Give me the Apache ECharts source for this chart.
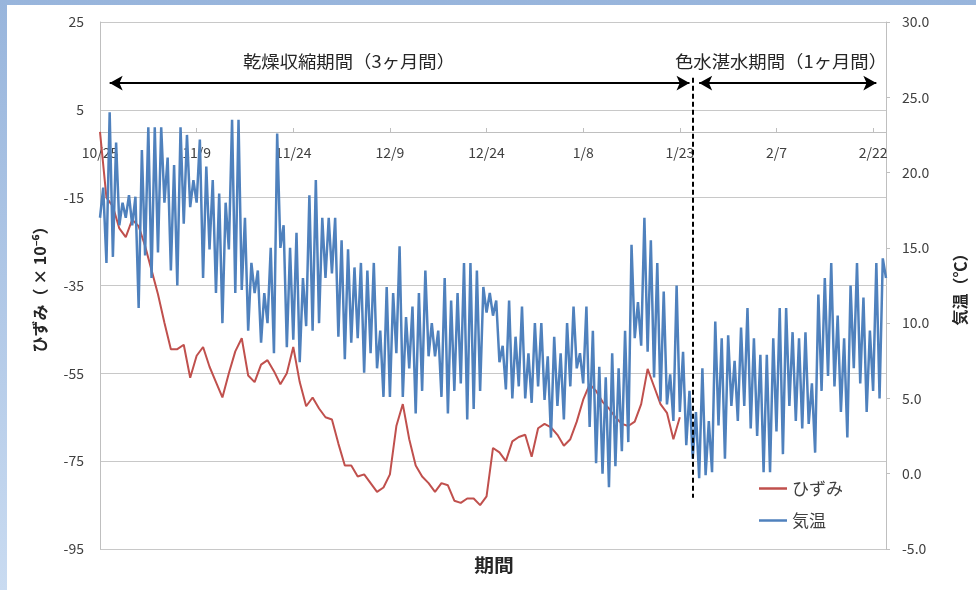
<!DOCTYPE html>
<html><head><meta charset="utf-8">
<script src="https://cdn.jsdelivr.net/npm/echarts@6/dist/echarts.min.js"></script>
<style>html,body{margin:0;padding:0;background:#fff}#c{width:976px;height:590px}</style>
</head><body><div id="c"></div>
<script>
// X axis tick labels (every 15 days, first day = 10/25)
const tickLabels = ['10/25','11/9','11/24','12/9','12/24','1/8','1/23','2/7','2/22'];
const seriesNames = ['ひずみ', '気温'];

// 気温 (℃): two readings per day (low, high), 10/25 .. 2/24
const tempValues = [
  17, 19, 14, 24, 14.4, 22, 16.5, 18, 17, 18.5,
  16.5, 18.4, 11, 21.5, 14.5, 23, 13, 23, 14.7, 23,
  18, 21, 13.5, 20.5, 12.5, 23, 16.6, 22.5, 17.7, 19.5,
  18, 22.2, 13, 20.4, 14.9, 19.5, 12, 18.6, 10, 18,
  14.9, 23.5, 12, 23.5, 12.2, 17, 9.5, 14, 12, 13.5,
  8.7, 12, 10, 15, 8, 22.6, 15, 16.5, 8.4, 15,
  8.9, 16, 7.4, 13, 9.8, 18.5, 9.5, 19.5, 10, 17,
  13, 17, 13.3, 17, 9.1, 15.5, 7.6, 14.9, 8.7, 13.7,
  9, 14, 6.7, 13.5, 8, 14, 7, 9.5, 5.1, 12.4,
  5.1, 12, 8, 15.1, 5.1, 10.4, 7, 11.1, 4, 12,
  5.5, 13.5, 7.8, 10, 7.8, 9.5, 5.1, 13, 4, 11.5,
  5.5, 12, 6, 14, 3.6, 14, 4.3, 13.5, 5.5, 12.4,
  10.7, 12, 10.5, 11.5, 7.4, 8.5, 5.6, 11.5, 5, 9.1,
  5.8, 11.1, 5, 8, 4.7, 10, 5.8, 10, 4.9, 7.8,
  2.4, 9.1, 4.5, 8, 3.6, 10, 5.8, 11.1, 7, 8,
  6, 11.1, 3.1, 9.5, 0.7, 7.1, 0, 6.4, -0.9, 8,
  0.5, 7, 1.5, 9.5, 2.1, 15.2, 9, 11.4, 8.5, 17,
  8.1, 15.5, 6.4, 14, 4.8, 12.1, 4.6, 6.6, 3.5, 12.5,
  4.1, 8.1, 1.9, 5.5, 1, 4.1, -0.3, 7, -0.1, 3.5,
  0.1, 10.1, 3.2, 9, 1, 9.2, 4.5, 7.5, 3.5, 9.7,
  4.5, 11, 3, 9, 2.5, 7.9, 0.1, 7.9, 0.1, 9,
  2.8, 11, 1.3, 11, 4.5, 9.4, 3.5, 9, 3, 9.4,
  3.3, 6, 1.4, 11.9, 5.5, 13, 6.5, 14, 5.8, 10.5,
  4.1, 9, 2.4, 12.5, 7, 14, 6, 11.7, 4.1, 9.5,
  5.5, 14, 5, 14.3, 13
];

// ひずみ (×10^-6): one reading per day, 10/25 .. 1/23
const strainDaily = [
  0, -15, -17, -22, -24, -20, -21.5, -26, -31.5, -37,
  -43.5, -49.5, -49.5, -48.5, -56, -51, -49, -53.5, -57, -60.5,
  -55, -50, -47, -55.5, -57, -53, -52, -54.5, -57.5, -55,
  -49, -57, -62.5, -60.5, -63, -65, -65.5, -71, -76, -76,
  -78.5, -78, -80, -82, -81, -78, -67, -62, -70, -76,
  -78.5, -80, -82, -80, -80.5, -84, -84.5, -83.5, -83.5, -85,
  -83, -72, -73, -75, -70.5, -69.5, -69, -74, -67.5, -66.5,
  -67.3, -69, -71.5, -70, -66, -61, -57.5, -59, -61.5, -63,
  -65, -66.5, -67, -66, -62, -54, -58, -62, -64, -70,
  -65
];

// build categories (half-day slots) from the start date
const categories = [];
const t0 = Date.UTC(2013, 9, 25);
for (let k = 0; k < tempValues.length; k++) {
  const d = new Date(t0 + k * 12 * 3600 * 1000);
  const s = (d.getUTCMonth() + 1) + '/' + d.getUTCDate();
  categories.push(k % 2 === 0 ? s : s + ' 12:00');
}
const strainData = categories.map((c, k) => (k % 2 === 0 && k / 2 < strainDaily.length) ? strainDaily[k / 2] : null);

const FONT = '"Noto Sans CJK JP", "Noto Sans", sans-serif';
const chart = echarts.init(document.getElementById('c'), null, {renderer: 'canvas'});
chart.setOption({
  animation: false,
  textStyle: {fontFamily: FONT},
  grid: {left: 100, right: 90, top: 22, bottom: 41, containLabel: false},
  legend: {
    orient: 'vertical', left: 754, top: 475, icon: 'rect', itemWidth: 28, itemHeight: 2.5, itemGap: 15,
    data: seriesNames,
    textStyle: {fontSize: 17, color: '#404040', fontFamily: FONT}
  },
  xAxis: {
    type: 'category', data: categories, boundaryGap: false,
    position: 'bottom', offset: -417,
    axisLine: {show: true, onZero: false, lineStyle: {color: '#bfbfbf', width: 1}},
    axisTick: {show: true, inside: true, length: 4, interval: 29, lineStyle: {color: '#bfbfbf'}},
    axisLabel: {
      interval: 29, margin: 14, fontSize: 14, color: '#404040',
      formatter: (v, idx) => tickLabels[Math.round(idx / 30)]
    },
    splitLine: {show: false}
  },
  yAxis: [
    {
      type: 'value', min: -95, max: 25, interval: 20, position: 'left',
      axisLine: {show: true, lineStyle: {color: '#bfbfbf'}},
      axisTick: {show: false},
      axisLabel: {fontSize: 14, color: '#404040', margin: 16},
      splitLine: {show: true, lineStyle: {color: '#c8c8c8', width: 1}},
      name: 'ひずみ（ × 10⁻⁶）', nameLocation: 'middle', nameGap: 52, nameRotate: 90,
      nameTextStyle: {fontSize: 16, fontWeight: 'bold', color: '#262626'}
    },
    {
      type: 'value', min: -5, max: 30, interval: 5, position: 'right',
      axisLine: {show: true, lineStyle: {color: '#bfbfbf'}},
      axisTick: {show: true, length: 4, lineStyle: {color: '#bfbfbf'}},
      axisLabel: {fontSize: 14, color: '#404040', margin: 16, formatter: v => v.toFixed(1)},
      splitLine: {show: false},
      name: '気温（℃）', nameLocation: 'middle', nameGap: 66, nameRotate: 90,
      nameTextStyle: {fontSize: 16, fontWeight: 'bold', color: '#262626'}
    }
  ],
  series: [
    {
      name: seriesNames[0], type: 'line', yAxisIndex: 0, data: strainData,
      connectNulls: true, symbol: 'none', showSymbol: false,
      lineStyle: {color: '#c0504d', width: 2}, itemStyle: {color: '#c0504d'},
      markLine: {
        silent: true, animation: false, symbol: ['arrow', 'arrow'], symbolSize: [11, 13],
        label: {show: false},
        lineStyle: {color: '#000', width: 2, type: 'solid'},
        data: [
          [{coord: [3, 11.1]}, {coord: [183, 11.1]}],
          [{coord: [186, 11.1]}, {coord: [241, 11.1]}]
        ]
      }
    },
    {
      name: seriesNames[1], type: 'line', yAxisIndex: 1, data: tempValues,
      symbol: 'none', showSymbol: false,
      lineStyle: {color: '#4f81bd', width: 2.5}, itemStyle: {color: '#4f81bd'},
      markLine: {
        silent: true, animation: false, symbol: ['none', 'none'],
        label: {show: false},
        lineStyle: {color: '#000', width: 2, type: [5, 3]},
        data: [
          [{coord: [184, 26.3]}, {coord: [184, -1.6]}]
        ]
      }
    }
  ],
  graphic: [
    {type: 'rect', z: -100, shape: {x: 0, y: 0, width: 976, height: 590},
     style: {fill: new echarts.graphic.LinearGradient(0, 0, 0, 1, [{offset: 0, color: '#98b5dc'}, {offset: 1, color: '#c9dbf1'}])}},
    {type: 'rect', z: -99, shape: {x: 7, y: 5, width: 969, height: 585}, style: {fill: '#ffffff'}},
    {type: 'text', z: 100, x: 349, y: 62, scaleX: 1.08,
     style: {text: '乾燥収縮期間（3ヶ月間）', fontSize: 17, fontFamily: FONT, fill: '#262626', align: 'center', verticalAlign: 'middle'}},
    {type: 'text', z: 100, x: 781, y: 62, scaleX: 1.08,
     style: {text: '色水湛水期間（1ヶ月間）', fontSize: 17, fontFamily: FONT, fill: '#262626', align: 'center', verticalAlign: 'middle'}},
    {type: 'text', z: 100, x: 494, y: 565, scaleX: 1.1,
     style: {text: '期間', fontSize: 18, fontWeight: 'bold', fontFamily: FONT, fill: '#262626', align: 'center', verticalAlign: 'middle'}}
  ]
});
</script></body></html>
